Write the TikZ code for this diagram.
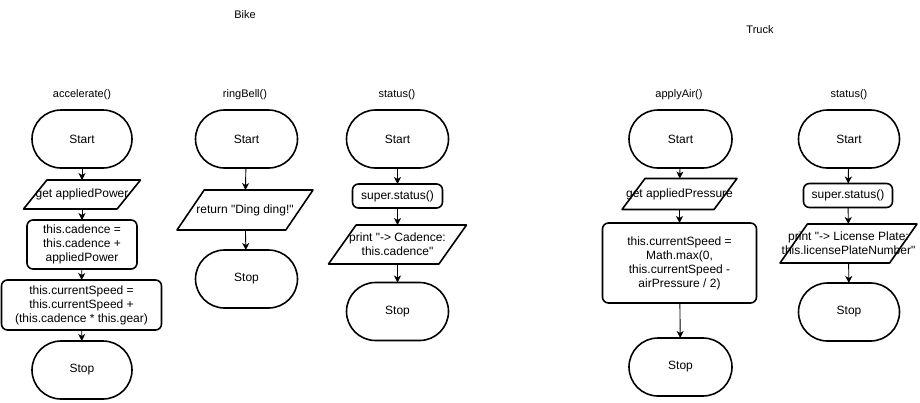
\documentclass[tikz,border=0pt]{standalone}
\usepackage{fontspec}
\setmainfont{Liberation Sans}[Ligatures=TeXOff]
\usetikzlibrary{arrows.meta,calc}

\tikzset{
  base/.style={inner sep=0pt, outer sep=0pt, align=center,
    font=\fontsize{12}{14}\selectfont},
  term/.style={base, draw, line width=1.6pt, rectangle, rounded corners=29pt,
    minimum width=#1, minimum height=58pt},
  proc/.style={base, draw, line width=1.6pt, rectangle, rounded corners=6pt},
  iobox/.style={base},
  title/.style={inner sep=0pt, font=\fontsize{11}{13}\selectfont},
  flow/.style={-{Stealth[length=7pt,width=7pt,inset=2pt]}, line width=0.9pt},
  frame/.style={line width=1.6pt, line join=round},
}

\begin{document}
\begin{tikzpicture}[x=1pt,y=-1pt]
\useasboundingbox (0,0) rectangle (920,402);

% class headings
\node[title] (bike) at (245,15) {Bike};
\node[title] (truck) at (760,30) {Truck};

% ---- Bike: accelerate()
\node[title] (h1) at (82,95) {accelerate()};
\node[term=100pt] (s1) at (82,139) {Start};
\node[iobox, minimum width=117pt, minimum height=29pt] (p1) at (82,194.5) {get appliedPower};
\node[proc, minimum width=110pt, minimum height=49pt] (b1) at (82,244.5)
  {this.cadence =\\this.cadence +\\appliedPower};
\node[proc, minimum width=160pt, minimum height=50pt] (b2) at (81.5,305)
  {this.currentSpeed =\\this.currentSpeed +\\(this.cadence * this.gear)};
\node[term=100pt] (e1) at (82,370) {Stop};

% ---- Bike: ringBell()
\node[title] (h2) at (245,95) {ringBell()};
\node[term=102pt] (s2) at (246.5,139) {Start};
\node[iobox, minimum width=136pt, minimum height=40pt] (p2) at (245,210) {return "Ding ding!"};
\node[term=102pt] (e2) at (246.5,279) {Stop};

% ---- Bike: status()
\node[title] (h3) at (397,95) {status()};
\node[term=102pt] (s3) at (397.5,139) {Start};
\node[proc, minimum width=90pt, minimum height=24pt] (b3) at (397.5,196) {super.status()};
\node[iobox, minimum width=138pt, minimum height=39pt] (p3) at (397.5,244.5)
  {print "-> Cadence:\\this.cadence"};
\node[term=102pt] (e3) at (397.5,311.5) {Stop};

% ---- Truck: applyAir()
\node[title] (h4) at (679,95) {applyAir()};
\node[term=103pt] (s4) at (680.5,139) {Start};
\node[iobox, minimum width=115pt, minimum height=31pt] (p4) at (679.5,194) {get appliedPressure};
\node[proc, minimum width=154pt, minimum height=80pt] (b4) at (679.5,263)
  {this.currentSpeed =\\Math.max(0,\\this.currentSpeed -\\airPressure / 2)};
\node[term=103pt] (e4) at (680.5,367) {Stop};

% ---- Truck: status()
\node[title] (h5) at (849,95) {status()};
\node[term=101pt] (s5) at (849,139) {Start};
\node[proc, minimum width=89pt, minimum height=24pt] (b5) at (848,195.5) {super.status()};
\node[iobox, minimum width=137pt, minimum height=39pt] (p5) at (848.5,243.5)
  {print "-> License Plate:\\this.licensePlateNumber"};
\node[term=101pt] (e5) at (849,312) {Stop};

% parallelogram outlines (skew = 20% of width)
\foreach \n/\w in {p1/117, p2/136, p3/138, p4/115, p5/137}{
  \draw[frame] ($(\n.north west)+(0.2*\w,0)$) -- (\n.north east)
    -- ($(\n.south east)-(0.2*\w,0)$) -- (\n.south west) -- cycle;
}

% flow connectors
\draw[flow] (s1) -- (p1);
\draw[flow] (p1) -- (b1);
\draw[flow] (b1) -- (b2);
\draw[flow] (b2) -- (e1);

\draw[flow] (s2) -- (p2);
\draw[flow] (p2) -- (e2);

\draw[flow] (s3) -- (b3);
\draw[flow] (b3) -- (p3);
\draw[flow] (p3) -- (e3);

\draw[flow] (s4) -- (p4);
\draw[flow] (p4) -- (b4);
\draw[flow] (b4) -- (e4);

\draw[flow] (s5) -- (b5);
\draw[flow] (b5) -- (p5);
\draw[flow] (p5) -- (e5);
\end{tikzpicture}
\end{document}
